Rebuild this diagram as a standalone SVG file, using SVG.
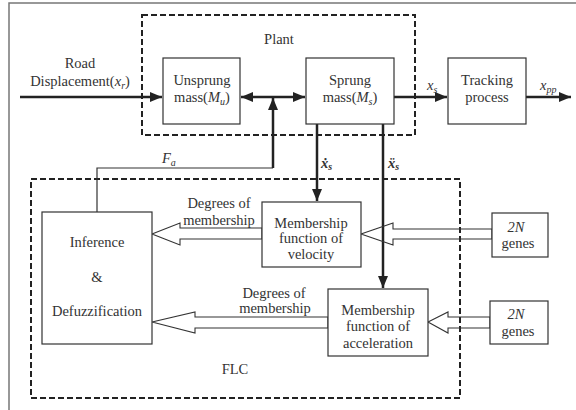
<svg xmlns="http://www.w3.org/2000/svg" width="576" height="410" viewBox="0 0 576 410">
<style>
text{font-family:"Liberation Serif","Times New Roman",serif;font-size:14.5px;fill:#333;}
.c{text-anchor:middle;}
.i{font-style:italic;}
.box{fill:#fff;stroke:#333;stroke-width:1.2;}
.dash{fill:none;stroke:#222;stroke-width:2;stroke-dasharray:6 3;}
.thick{fill:none;stroke:#222;stroke-width:2.5;}
.thin{fill:none;stroke:#333;stroke-width:1.2;}
.hollow{fill:none;stroke:#333;stroke-width:1.1;stroke-linejoin:miter;}
</style>
<defs>
<marker id="ah" markerUnits="userSpaceOnUse" markerWidth="14" markerHeight="12" refX="12" refY="5" orient="auto">
<path d="M0,0 L12,5 L0,10 Z" fill="#222"/>
</marker>
<marker id="ahs" markerUnits="userSpaceOnUse" markerWidth="14" markerHeight="12" refX="0" refY="5" orient="auto">
<path d="M12,0 L0,5 L12,10 Z" fill="#222"/>
</marker>
</defs>
<rect width="576" height="410" fill="#fff"/>
<path d="M9,410 L9,3 L576,3" fill="none" stroke="#777" stroke-width="1.5"/>

<g id="plant">
<rect class="dash" x="142" y="15" width="273" height="120"/>
<text class="c" x="279" y="44">Plant</text>
</g>
<g id="flc">
<rect class="dash" x="31" y="179" width="429" height="219"/>
<text class="c" x="235" y="374">FLC</text>
</g>

<g id="connectors">
<line class="thick" x1="20" y1="97" x2="162" y2="97" marker-end="url(#ah)"/>
<line class="thick" x1="241" y1="97" x2="305" y2="97" marker-start="url(#ahs)" marker-end="url(#ah)"/>
<line class="thick" x1="394" y1="97" x2="447" y2="97" marker-end="url(#ah)"/>
<line class="thick" x1="526" y1="97" x2="571" y2="97" marker-end="url(#ah)"/>
<polyline class="thin" points="97,212 97,168 273,168"/>
<line class="thick" x1="273" y1="168" x2="273" y2="98" marker-end="url(#ah)"/>
<line class="thick" x1="317" y1="124" x2="317" y2="201" marker-end="url(#ah)"/>
<line class="thick" x1="383" y1="124" x2="383" y2="288" marker-end="url(#ah)"/>
<polygon class="hollow" points="492,229 393,229 393,223 361,234 393,245 393,239 492,239"/>
<polygon class="hollow" points="262,228 180,228 180,223 152,234 180,245 180,239 262,239"/>
<polygon class="hollow" points="328,317 195,317 195,312 152,322 195,333 195,328 328,328"/>
<polygon class="hollow" points="490,317 448,317 448,312 428,322 448,333 448,328 490,328"/>
</g>

<g id="labels">
<text class="c" x="80" y="68">Road</text>
<text class="c" x="80" y="86">Displacement(<tspan class="i">x</tspan><tspan class="i" font-size="10" dy="3">r</tspan><tspan dy="-3">)</tspan></text>
<text x="427" y="90" class="i">x<tspan font-size="10" dy="3">s</tspan></text>
<text x="540" y="90" class="i">x<tspan font-size="10" dy="3">pp</tspan></text>
<text x="162" y="163" class="i">F<tspan font-size="10" dy="3">a</tspan></text>
<text x="321" y="168" class="i" font-weight="bold" fill="#666">ẋ<tspan font-size="10" dy="2">s</tspan></text>
<text x="388" y="168" class="i" font-weight="bold" fill="#666">ẍ<tspan font-size="10" dy="2">s</tspan></text>
<text class="c" x="219" y="208">Degrees of</text>
<text class="c" x="219" y="225">membership</text>
<text class="c" x="274" y="298">Degrees of</text>
<text class="c" x="275" y="313">membership</text>
</g>

<g id="unsprung">
<rect class="box" x="163" y="58" width="77" height="66"/>
<text class="c" x="202" y="85">Unsprung</text>
<text class="c" x="202" y="102">mass(<tspan class="i">M</tspan><tspan class="i" font-size="10" dy="3">u</tspan><tspan dy="-3">)</tspan></text>
</g>
<g id="sprung">
<rect class="box" x="306" y="58" width="88" height="66"/>
<text class="c" x="350" y="85">Sprung</text>
<text class="c" x="350" y="102">mass(<tspan class="i">M</tspan><tspan class="i" font-size="10" dy="3">s</tspan><tspan dy="-3">)</tspan></text>
</g>
<g id="tracking">
<rect class="box" x="448" y="58" width="78" height="66"/>
<text class="c" x="487" y="85">Tracking</text>
<text class="c" x="487" y="102">process</text>
</g>
<g id="inference">
<rect class="box" x="42" y="212" width="110" height="132"/>
<text class="c" x="97" y="247">Inference</text>
<text class="c" x="97" y="282">&amp;</text>
<text class="c" x="97" y="316">Defuzzification</text>
</g>
<g id="mf-velocity">
<rect class="box" x="262" y="202" width="99" height="65"/>
<text class="c" x="311" y="228">Membership</text>
<text class="c" x="311" y="243">function of</text>
<text class="c" x="311" y="259">velocity</text>
</g>
<g id="mf-acceleration">
<rect class="box" x="328" y="289" width="100" height="67"/>
<text class="c" x="378" y="315">Membership</text>
<text class="c" x="378" y="331">function of</text>
<text class="c" x="378" y="348">acceleration</text>
</g>
<g id="genes1">
<rect class="box" x="492" y="213" width="56" height="44"/>
<text class="c i" x="516" y="232">2N</text>
<text class="c" x="518" y="248">genes</text>
</g>
<g id="genes2">
<rect class="box" x="490" y="301" width="58" height="43"/>
<text class="c i" x="516" y="319">2N</text>
<text class="c" x="518" y="336">genes</text>
</g>
</svg>
